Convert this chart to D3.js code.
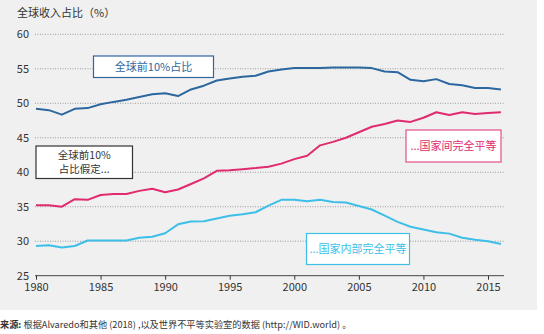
<!DOCTYPE html>
<html><head><meta charset="utf-8">
<script src="https://cdn.jsdelivr.net/npm/d3@7"></script>
<style>
body{margin:0;background:#fff;}
svg{display:block;font-family:"Noto Sans CJK SC","Noto Sans",sans-serif;}
</style></head>
<body><svg id="c" width="544" height="334"></svg>
<script>
const years = d3.range(1980, 2017);
const top10 = [49.2,49.0,48.35,49.2,49.3,49.85,50.2,50.5,50.9,51.3,51.45,51.05,52.0,52.55,53.3,53.6,53.85,54.0,54.6,54.9,55.1,55.1,55.1,55.2,55.2,55.2,55.1,54.6,54.5,53.4,53.2,53.5,52.8,52.6,52.2,52.2,52.0];
const betweenEq = [35.2,35.2,35.0,36.1,36.0,36.7,36.85,36.85,37.3,37.6,37.1,37.5,38.3,39.1,40.2,40.3,40.45,40.6,40.8,41.25,41.9,42.4,43.9,44.4,45.0,45.8,46.6,47.0,47.5,47.3,47.9,48.7,48.3,48.7,48.45,48.6,48.7];
const withinEq = [29.3,29.4,29.1,29.3,30.1,30.1,30.1,30.1,30.5,30.65,31.15,32.45,32.85,32.9,33.3,33.7,33.9,34.2,35.15,36.0,36.0,35.8,36.0,35.7,35.6,35.1,34.6,33.7,32.8,32.1,31.7,31.3,31.1,30.5,30.2,30.0,29.6];
const yTicks = [25,30,35,40,45,50,55,60];
const xTicks = [1980,1985,1990,1995,2000,2005,2010,2015];
const title = "全球收入占比（%）";
const labels = {top:"全球前10%占比", assume:["全球前10%","占比假定..."], between:"...国家间完全平等", within:"...国家内部完全平等"};

const svg = d3.select("#c");
svg.append("rect").attr("x",0).attr("y",0).attr("width",537).attr("height",310).attr("fill","#f0f0f0");

const x = d3.scaleLinear().domain([1980,2015]).range([36,488]);
const y = d3.scaleLinear().domain([25,60]).range([275.7,34.3]);
const x0 = 35, x1 = 504;

// grid
svg.append("g").selectAll("line").data(yTicks.filter(d=>d>25)).join("line")
  .attr("x1",x0).attr("x2",x1).attr("y1",d=>y(d)).attr("y2",d=>y(d))
  .attr("stroke","#9a9a9a").attr("stroke-width",1).attr("stroke-dasharray","1,1.5");

// y labels
svg.append("g").selectAll("text").data(yTicks).join("text")
  .attr("x",29).attr("y",d=>y(d)).attr("dy","0.35em").attr("text-anchor","end")
  .attr("font-size",11).attr("fill","#333").text(d=>d);

// x axis
const xa = svg.append("g").attr("transform",`translate(0,${y(25)})`)
  .call(d3.axisBottom(x).tickValues(xTicks).tickFormat(d3.format("d")).tickSize(4).tickPadding(4));
xa.select(".domain").remove();
xa.selectAll("line").attr("stroke","#333");
xa.selectAll("text").attr("font-size",11).attr("fill","#333").attr("font-family","'Noto Sans CJK SC','Noto Sans',sans-serif");
svg.append("line").attr("x1",x0).attr("x2",x1).attr("y1",y(25)).attr("y2",y(25)).attr("stroke","#444").attr("stroke-width",1);

// title
svg.append("text").attr("x",17).attr("y",17).attr("font-size",11).attr("fill","#333").text(title);

const line = d3.line().x((d,i)=>x(years[i])).y(d=>y(d));
const series = [[withinEq,"#3dbfe8"],[betweenEq,"#e02b6e"],[top10,"#2d679f"]];
series.forEach(([s,c])=>{
  svg.append("path").datum(s).attr("d",line).attr("fill","none").attr("stroke",c).attr("stroke-width",2).attr("stroke-linejoin","round");
});

function box(x0,y0,w,h,stroke,lines,color,fs,lh){
  svg.append("rect").attr("x",x0).attr("y",y0).attr("width",w).attr("height",h)
    .attr("fill","#fff").attr("stroke",stroke).attr("stroke-width",1.2);
  const start = y0 + h/2 - (lines.length-1)*lh/2;
  lines.forEach((t,i)=>{
    svg.append("text").attr("x",x0+w/2).attr("y",start+i*lh).attr("dy","0.35em")
      .attr("text-anchor","middle").attr("font-size",fs).attr("fill",color).text(t);
  });
}
box(93.5,56,120,21.5,"#2d679f",[labels.top],"#2d679f",11,13);
box(36,146,96.5,32.5,"#333",labels.assume,"#333",10.5,14.5);
box(406,130,95,32,"#e3518a",[labels.between],"#e02b6e",11,13);
box(306.5,233.5,103,31,"#3dbfe8",[labels.within],"#3dbfe8",11,13);

// footer
const f = svg.append("text").attr("x",0).attr("y",328).attr("font-size",9.2).attr("fill","#333");
f.append("tspan").attr("font-weight","bold").text("来源: ");
f.append("tspan").text("根据Alvaredo和其他 (2018) ,以及世界不平等实验室的数据 (http://WID.world) 。");
</script></body></html>
